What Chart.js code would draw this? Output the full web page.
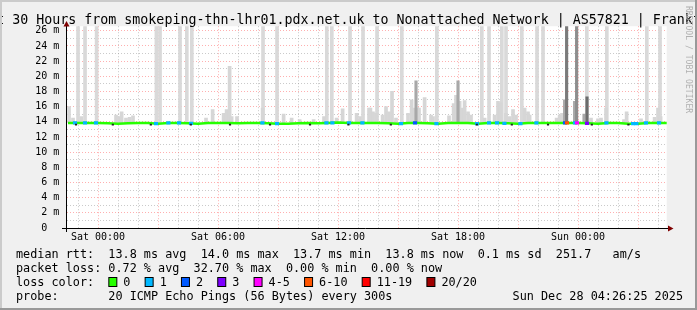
<!DOCTYPE html>
<html>
<head>
<meta charset="utf-8">
<script src="https://cdn.jsdelivr.net/npm/chart.js@4"></script>
<style>
  html, body { margin: 0; padding: 0; background: #f0f0f0; }
  canvas { display: block; }
</style>
</head>
<body>
<canvas id="smoke" width="697" height="310"></canvas>
<script>
// all times are hours relative to Sat 00:00, values are seconds in milli units (m)
const X_MIN = -1.566;   // Fri 22:26
const X_MAX = 28.434;   // Sun 04:26
const Y_MAX = 26.6;

const xTickHours = [0, 6, 12, 18, 24];
const xTickLabels = ["Sat 00:00", "Sat 06:00", "Sat 12:00", "Sat 18:00", "Sun 00:00"];
const yTickValues = [0, 2, 4, 6, 8, 10, 12, 14, 16, 18, 20, 22, 24, 26];
const yTickLabels = ["0  ", "2 m", "4 m", "6 m", "8 m", "10 m", "12 m", "14 m", "16 m", "18 m", "20 m", "22 m", "24 m", "26 m"];

// median rtt, read every half hour
const medianHours = [-1.5, -1, -0.5, 0, 0.5, 1, 1.5, 2, 2.5, 3, 3.5, 4, 4.5, 5, 5.5, 6, 6.5, 7, 7.5, 8,
  8.5, 9, 9.5, 10, 10.5, 11, 11.5, 12, 12.5, 13, 13.5, 14, 14.5, 15, 15.5, 16, 16.5, 17, 17.5, 18,
  18.5, 19, 19.5, 20, 20.5, 21, 21.5, 22, 22.5, 23, 23.5, 24, 24.5, 25, 25.5, 26, 26.5, 27, 27.5, 28, 28.5];
const medianValues = [13.85, 13.85, 13.85, 13.85, 13.8, 13.75, 13.8, 13.85, 13.85, 13.75, 13.85, 13.85, 13.8, 13.75, 13.85, 13.85, 13.85, 13.8, 13.85, 13.85,
  13.8, 13.75, 13.75, 13.8, 13.85, 13.8, 13.85, 13.9, 13.85, 13.85, 13.85, 13.85, 13.8, 13.75, 13.85, 13.85, 13.8, 13.75, 13.85, 13.85,
  13.85, 13.75, 13.85, 13.85, 13.8, 13.75, 13.85, 13.85, 13.85, 13.85, 13.85, 13.85, 13.8, 13.75, 13.85, 13.85, 13.75, 13.75, 13.85, 13.85, 13.85];

// light smoke reaching the top of the graph
const fullSmokeHours = [-1.0, -0.65, -0.07, 2.92, 3.1, 4.1, 4.44, 4.69, 8.25, 8.95, 11.44, 11.69, 12.6, 13.25,
  13.95, 15.19, 16.94, 19.19, 19.55, 20.19, 20.4, 21.19, 21.95, 22.25, 24.44, 25.44, 27.44, 28.1];

// light smoke spikes (top value)
const spikeHours = [-1.45, -1.25, -0.83, 0.9, 1.05, 1.18, 1.4, 1.58, 1.75, 5.4, 5.73, 6.28, 6.43, 6.58, 6.68, 6.95,
  8.23, 9.28, 9.68, 10.08, 10.78, 11.3, 11.93, 12.23, 12.93, 13.1, 13.55, 13.62, 13.75, 13.9, 14.23, 14.4, 14.55,
  14.7, 14.9, 15.5, 15.68, 15.8, 16.05, 16.33, 16.65, 16.75, 17.55, 17.78, 17.9, 18.08, 18.2, 18.33, 18.5, 18.65,
  19.33, 19.83, 20.0, 20.13, 20.4, 20.58, 20.75, 20.9, 21.33, 21.5, 21.58, 22.93, 23.08, 23.2, 24.65, 25.0, 25.15,
  25.4, 26.3, 26.43, 27.15, 27.83, 28.0, 28.13];
const spikeTops = [16.0, 14.5, 14.7, 14.9, 14.7, 15.3, 14.5, 14.6, 14.8, 14.5, 15.6, 15.1, 15.6, 21.3, 14.7, 14.7,
  15.8, 15.0, 14.5, 14.3, 14.3, 14.7, 14.5, 15.7, 15.1, 14.7, 15.8, 15.8, 15.3, 15.1, 14.9, 16.0, 15.3,
  18.0, 14.5, 15.1, 16.9, 15.8, 15.8, 17.2, 14.9, 14.7, 14.8, 16.4, 17.5, 16.7, 15.8, 16.8, 15.3, 14.9,
  14.5, 14.9, 16.7, 16.5, 15.1, 14.7, 15.6, 14.9, 15.8, 15.3, 14.9, 14.5, 14.9, 15.1, 14.5, 14.4, 14.5,
  15.8, 14.3, 15.3, 14.4, 14.6, 15.8, 14.7];

// denser smoke
const midSpikeHours = [15.9, 18.0, 23.33, 23.83, 24.3];
const midSpikeTops = [19.4, 19.4, 16.9, 16.7, 15.0];
const darkSpikeHours = [23.43, 23.93, 24.45];
const darkSpikeTops = [26.6, 26.6, 17.3];

// lowest pings just under the median
const lowPingHours = [-1.1, 0.74, 2.64, 4.64, 6.6, 8.6, 10.6, 12.52, 14.64, 18.94, 20.69, 22.5, 24.69, 26.52];

// lost pings out of 20
const lossHours = [-1.15, -0.65, -0.1, 2.9, 3.52, 4.05, 4.65, 8.22, 8.95, 11.42, 11.72, 12.55, 13.22,
  15.15, 15.85, 16.92, 18.95, 19.55, 19.95, 20.32, 21.12, 21.92, 23.35, 23.45, 23.85, 23.95, 24.45,
  25.42, 26.75, 26.92, 27.4, 28.05];
const lossCounts = [1, 1, 1, 1, 1, 1, 1, 1, 1, 1, 1, 1, 1,
  1, 2, 1, 1, 1, 1, 1, 1, 1, 2, 7, 1, 4, 3,
  1, 1, 1, 1, 1];

const lossLegend = ["0", "1", "2", "3", "4-5", "6-10", "11-19", "20/20"];
const lossLegendColors = ["#26ff00", "#00b8ff", "#0059ff", "#7e00ff", "#ff00ff", "#ff5500", "#ff0000", "#a10000"];

const MONO = "'DejaVu Sans Mono', 'Liberation Mono', monospace";
const MAJOR = "rgba(255, 110, 110, 0.55)";
const MINOR = "rgba(150, 150, 150, 0.5)";

function lossColor(n) {
  if (n <= 0) return lossLegendColors[0];
  if (n <= 3) return lossLegendColors[n];
  if (n <= 5) return lossLegendColors[4];
  if (n <= 10) return lossLegendColors[5];
  if (n <= 19) return lossLegendColors[6];
  return lossLegendColors[7];
}

function nearestMedian(h) {
  let best = 0;
  medianHours.forEach((m, i) => {
    if (Math.abs(m - h) < Math.abs(medianHours[best] - h)) best = i;
  });
  return medianValues[best];
}

const gridHours = [];
for (let h = -1; h <= 28; h++) gridHours.push(h);
const gridValues = [];
for (let v = 0; v <= 26; v++) gridValues.push(v);

const frame = {
  id: "frame",
  beforeDraw(chart) {
    const { ctx, chartArea: a } = chart;
    ctx.save();
    ctx.fillStyle = "#f0f0f0";
    ctx.fillRect(0, 0, chart.width, chart.height);
    ctx.fillStyle = "#ffffff";
    ctx.fillRect(a.left, a.top, a.right - a.left, a.bottom - a.top);
    ctx.restore();
  },
  afterDraw(chart) {
    const { ctx, chartArea: a } = chart;
    ctx.save();

    // axes + arrows
    ctx.strokeStyle = "#000";
    ctx.lineWidth = 1;
    ctx.beginPath();
    ctx.moveTo(66.5, 232);
    ctx.lineTo(66.5, 24);
    ctx.moveTo(62, 228.5);
    ctx.lineTo(669, 228.5);
    ctx.stroke();
    ctx.fillStyle = "#7f0000";
    ctx.beginPath();
    ctx.moveTo(63.5, 26.5); ctx.lineTo(69.5, 26.5); ctx.lineTo(66.5, 21); ctx.closePath();
    ctx.fill();
    ctx.beginPath();
    ctx.moveTo(668, 225.5); ctx.lineTo(668, 231.5); ctx.lineTo(673.5, 228.5); ctx.closePath();
    ctx.fill();

    // title
    ctx.fillStyle = "#000";
    ctx.font = `13.3px ${MONO}`;
    ctx.textAlign = "center";
    ctx.textBaseline = "alphabetic";
    ctx.fillText("Last 30 Hours from smokeping-thn-lhr01.pdx.net.uk to Nonattached Network | AS57821 | Frankfurt", 348.5, 24);

    // legend text
    ctx.font = `11.8px ${MONO}`;
    ctx.textAlign = "left";
    ctx.fillText("median rtt:  13.8 ms avg  14.0 ms max  13.7 ms min  13.8 ms now  0.1 ms sd  251.7   am/s", 16, 257.5);
    ctx.fillText("packet loss: 0.72 % avg  32.70 % max  0.00 % min  0.00 % now", 16, 271.7);
    ctx.fillText("loss color:", 16, 285.9);
    const cw = ctx.measureText("0").width;
    let x = 16 + 13 * cw;
    lossLegend.forEach((lab, i) => {
      ctx.fillStyle = lossLegendColors[i];
      ctx.fillRect(x + 0.5, 277.5, 8, 9);
      ctx.strokeStyle = "#000";
      ctx.strokeRect(x + 0.5, 277.5, 8, 9);
      ctx.fillStyle = "#000";
      ctx.fillText(lab, x + 15, 285.9);
      x = x + 15 + ctx.measureText(lab).width + 2 * cw;
    });
    ctx.fillText("probe:       20 ICMP Echo Pings (56 Bytes) every 300s", 16, 300.1);
    ctx.textAlign = "right";
    ctx.fillText("Sun Dec 28 04:26:25 2025", 683, 300.1);

    // watermark
    ctx.translate(688.5, 6);
    ctx.rotate(Math.PI / 2);
    ctx.font = `8.1px ${MONO}`;
    ctx.textAlign = "left";
    ctx.textBaseline = "middle";
    ctx.fillStyle = "#b0b0b0";
    ctx.fillText("RRDTOOL / TOBI OETIKER", 0, 0);
    ctx.setTransform(1, 0, 0, 1, 0, 0);

    // shaded frame
    ctx.fillStyle = "#cbcbcb";
    ctx.fillRect(0, 0, chart.width, 2);
    ctx.fillRect(0, 0, 2, chart.height);
    ctx.fillStyle = "#999999";
    ctx.fillRect(0, chart.height - 2, chart.width, 2);
    ctx.fillRect(chart.width - 2, 0, 2, chart.height);
    ctx.restore();
  }
};

function barSet(data, color, thickness, order) {
  return { type: "bar", data, backgroundColor: color, barThickness: thickness, grouped: false, order };
}

new Chart(document.getElementById("smoke"), {
  type: "bar",
  data: {
    datasets: [
      barSet(fullSmokeHours.map(h => ({ x: h, y: [13.9, Y_MAX] })), "#d9d9d9", 3, 10),
      barSet(spikeHours.map((h, i) => ({ x: h, y: [13.9, spikeTops[i]] })), "#d6d6d6", 3, 9),
      barSet(midSpikeHours.map((h, i) => ({ x: h, y: [13.9, midSpikeTops[i]] })), "#a8a8a8", 2.5, 8),
      barSet(darkSpikeHours.map((h, i) => ({ x: h, y: [13.9, darkSpikeTops[i]] })), ["#7b7b7b", "#8e8e8e", "#6c6c6c"], 2.5, 7),
      {
        type: "line",
        data: medianHours.map((h, i) => ({ x: h, y: medianValues[i] })),
        borderColor: "#26ff00",
        borderWidth: 2.5,
        pointRadius: 0,
        tension: 0,
        order: 3
      },
      barSet(lossHours.map(h => ({ x: h, y: [nearestMedian(h) - 0.17, nearestMedian(h) + 0.17] })), lossCounts.map(lossColor), 3.5, 2),
      barSet(lowPingHours.map(h => ({ x: h, y: [13.55, 13.7] })), "#222", 1.5, 1)
    ]
  },
  options: {
    responsive: false,
    animation: false,
    devicePixelRatio: 1,
    layout: { padding: { left: 0, right: 30.3, top: 26.2, bottom: 0 } },
    plugins: { legend: { display: false }, tooltip: { enabled: false } },
    scales: {
      x: {
        type: "linear",
        min: X_MIN,
        max: X_MAX,
        offset: false,
        z: 1,
        afterFit: s => { s.height = 82; },
        afterBuildTicks: s => { s.ticks = gridHours.map(v => ({ value: v })); },
        grid: {
          offset: false,
          drawTicks: false,
          lineWidth: 1,
          color: c => (c.tick && c.tick.value % 3 === 0 ? MAJOR : MINOR)
        },
        border: { display: false, dash: [1, 2] },
        ticks: {
          autoSkip: false,
          maxRotation: 0,
          padding: 3,
          color: "#000",
          font: { family: MONO, size: 10 },
          callback: v => {
            const i = xTickHours.indexOf(v);
            return i >= 0 ? xTickLabels[i] : "";
          }
        }
      },
      y: {
        type: "linear",
        min: 0,
        max: Y_MAX,
        z: 1,
        afterFit: s => { s.width = 66.7; },
        afterBuildTicks: s => { s.ticks = gridValues.map(v => ({ value: v })); },
        grid: {
          drawTicks: false,
          lineWidth: 1,
          color: c => (c.tick && c.tick.value % 2 === 0 ? MAJOR : MINOR)
        },
        border: { display: false, dash: [1, 2] },
        ticks: {
          autoSkip: false,
          padding: 7.4,
          color: "#000",
          font: { family: MONO, size: 10 },
          callback: v => {
            const i = yTickValues.indexOf(v);
            return i >= 0 ? yTickLabels[i] : "";
          }
        }
      }
    }
  },
  plugins: [frame]
});
</script>
</body>
</html>
